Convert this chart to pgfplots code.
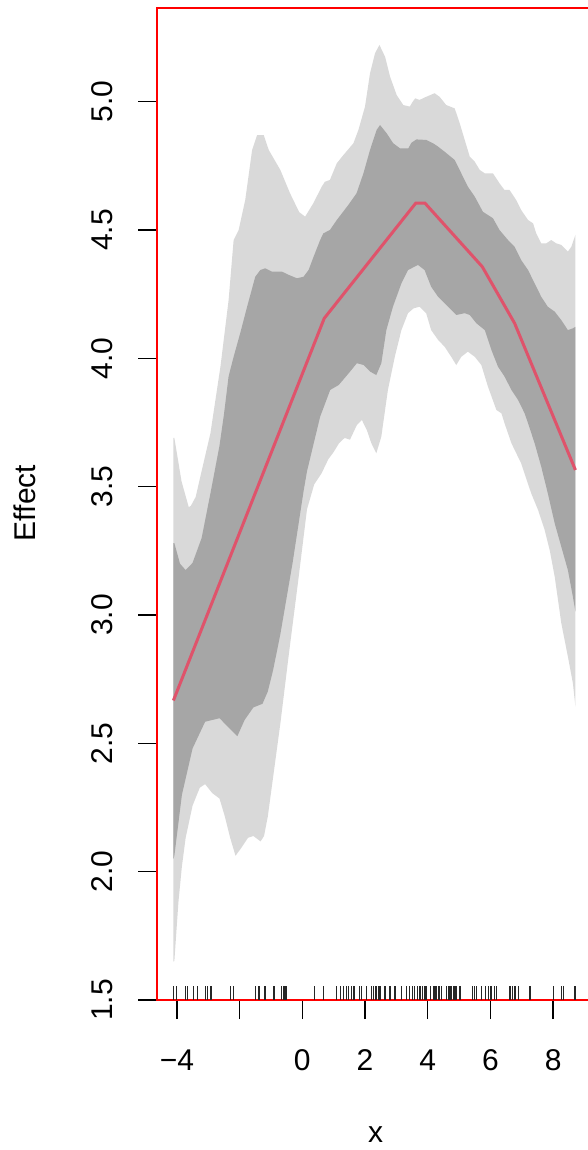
\documentclass[border=0pt]{standalone}
\usepackage{fontspec}
\setmainfont{Liberation Sans}
\usepackage{pgfplots}
\pgfplotsset{compat=1.18}
\definecolor{bandlight}{HTML}{D9D9D9}
\definecolor{banddark}{HTML}{A6A6A6}
\definecolor{pdpline}{HTML}{DF536B}
\begin{document}
\begin{tikzpicture}
\useasboundingbox (0pt,0pt) rectangle (235.2pt,460pt);
\begin{axis}[
  at={(62.92pt,60pt)}, anchor=south west,
  scale only axis, width=176.16pt, height=396.68pt,
  xmin=-4.624, xmax=9.42, ymin=1.5, ymax=5.364,
  axis line style={red, line width=0.8pt},
  axis on top,
  tick align=outside, major tick length=7.6pt,
  every tick/.style={black, line width=0.6pt},
  xtick={-4,-2,0,2,4,6,8}, xticklabels={−4,,0,2,4,6,8},
  ytick={1.5,2,2.5,3,3.5,4,4.5,5},
  yticklabels={1.5,2.0,2.5,3.0,3.5,4.0,4.5,5.0},
  xtick pos=bottom, ytick pos=left,
  tick label style={font=\fontsize{12}{14}\selectfont, inner sep=0pt},
  xticklabel style={anchor=base, yshift=-20.4pt},
  yticklabel style={xshift=-10.5pt, rotate=90, anchor=base},
]
% outer band
\addplot[fill=bandlight, draw=none] coordinates {
(-4.11,3.69) (-4.08,3.69) (-3.85,3.52) (-3.62,3.42) (-3.55,3.426) (-3.40,3.46) (-3.25,3.54)
(-2.93,3.708) (-2.61,3.968) (-2.35,4.227) (-2.19,4.461) (-2.03,4.50) (-1.82,4.617) (-1.60,4.812)
(-1.44,4.870) (-1.23,4.870) (-1.07,4.812) (-0.70,4.734) (-0.39,4.643) (-0.10,4.57) (0.09,4.552)
(0.35,4.604) (0.62,4.669) (0.72,4.688) (0.88,4.695) (1.10,4.760) (1.31,4.792) (1.63,4.838)
(1.79,4.890) (2.00,4.981) (2.16,5.111) (2.32,5.189) (2.46,5.221) (2.64,5.175) (2.80,5.097)
(3.01,5.026) (3.22,4.987) (3.43,4.981) (3.52,5.0) (3.60,5.013) (3.74,5.007) (3.95,5.019)
(4.22,5.033) (4.38,5.019) (4.59,4.987) (4.86,4.974) (5.02,4.916) (5.18,4.851) (5.34,4.786) (5.50,4.766)
(5.66,4.734) (5.82,4.721) (6.08,4.721) (6.29,4.682) (6.45,4.656) (6.61,4.656) (6.82,4.617) (6.98,4.578)
(7.20,4.539) (7.36,4.526) (7.46,4.487) (7.62,4.448) (7.78,4.448) (7.94,4.461) (8.10,4.448) (8.26,4.442)
(8.47,4.416) (8.58,4.435) (8.71,4.481)
(8.71,2.643) (8.63,2.734) (8.47,2.838) (8.26,2.968) (8.05,3.149) (7.89,3.253) (7.73,3.331) (7.52,3.409)
(7.30,3.474) (6.98,3.591) (6.67,3.669) (6.45,3.747) (6.35,3.786) (6.19,3.799) (5.92,3.890) (5.71,3.974)
(5.50,4.006) (5.28,4.026) (5.07,4.006) (4.91,3.974) (4.75,4.006) (4.54,4.045) (4.33,4.072) (4.11,4.110)
(3.95,4.176) (3.74,4.201) (3.55,4.195) (3.37,4.176) (3.16,4.110) (2.95,4.006) (2.73,3.877) (2.52,3.695)
(2.36,3.630) (2.20,3.67) (2.06,3.72) (1.90,3.76) (1.74,3.74) (1.52,3.683) (1.35,3.690) (1.17,3.669)
(1.00,3.635) (0.83,3.607) (0.61,3.551) (0.38,3.509) (0.15,3.412) (-0.13,3.134) (-0.42,2.856) (-0.70,2.577)
(-0.93,2.369) (-1.10,2.215) (-1.22,2.139) (-1.33,2.118) (-1.56,2.139) (-1.73,2.132) (-1.96,2.090)
(-2.13,2.062) (-2.30,2.132) (-2.47,2.215) (-2.64,2.285) (-2.87,2.306) (-3.10,2.341) (-3.27,2.327)
(-3.50,2.257) (-3.72,2.132) (-3.84,2.02) (-3.95,1.882) (-4.08,1.652) (-4.11,1.65)
} -- cycle;
% inner band
\addplot[fill=banddark, draw=none] coordinates {
(-4.11,3.28) (-4.08,3.280) (-3.90,3.20) (-3.72,3.175) (-3.50,3.203) (-3.21,3.300) (-2.92,3.48)
(-2.64,3.66) (-2.50,3.78) (-2.35,3.93) (-2.19,4.006) (-1.98,4.098) (-1.76,4.201) (-1.50,4.318)
(-1.34,4.344) (-1.18,4.351) (-0.97,4.338) (-0.65,4.338) (-0.43,4.325) (-0.17,4.312) (0.04,4.318)
(0.20,4.344) (0.36,4.396) (0.57,4.461) (0.67,4.487) (0.88,4.50) (1.10,4.539) (1.47,4.598)
(1.73,4.643) (1.95,4.721) (2.16,4.812) (2.37,4.890) (2.48,4.909) (2.69,4.877) (2.90,4.838)
(3.12,4.818) (3.38,4.818) (3.48,4.840) (3.64,4.853) (3.95,4.851) (4.17,4.838) (4.33,4.825) (4.54,4.805) (4.86,4.773)
(5.07,4.721) (5.28,4.669) (5.50,4.630) (5.76,4.571) (6.08,4.546) (6.29,4.500) (6.56,4.461) (6.77,4.435)
(6.98,4.383) (7.20,4.344) (7.41,4.292) (7.62,4.240) (7.83,4.201) (8.05,4.182) (8.26,4.149) (8.47,4.110)
(8.63,4.117) (8.71,4.123)
(8.71,3.013) (8.63,3.071) (8.47,3.175) (8.26,3.266) (8.05,3.357) (7.83,3.474) (7.62,3.578) (7.41,3.669)
(7.20,3.747) (7.09,3.786) (6.88,3.838) (6.67,3.877) (6.45,3.929) (6.24,3.968) (6.03,4.033) (5.82,4.110)
(5.55,4.137) (5.34,4.169) (5.18,4.176) (4.91,4.169) (4.65,4.201) (4.33,4.240) (4.11,4.279) (3.90,4.344)
(3.69,4.364) (3.37,4.344) (3.16,4.292) (2.89,4.201) (2.68,4.110) (2.52,3.981) (2.36,3.935) (2.17,3.948)
(1.96,3.974) (1.74,3.981) (1.48,3.942) (1.16,3.896) (0.89,3.877) (0.57,3.773) (0.38,3.677) (0.15,3.56)
(0.04,3.482) (-0.31,3.203) (-0.70,2.925) (-0.93,2.786) (-1.10,2.702) (-1.27,2.654) (-1.56,2.640)
(-1.84,2.591) (-2.07,2.528) (-2.36,2.563) (-2.64,2.598) (-3.10,2.584) (-3.50,2.480) (-3.84,2.299)
(-4.08,2.062) (-4.11,2.05)
} -- cycle;
% partial dependence
\addplot[pdpline, line width=1.2pt] coordinates {
(-4.11,2.667) (0.70,4.156) (3.62,4.605) (3.91,4.605) (5.74,4.357) (6.77,4.137) (8.71,3.565)
};
% rug
\addplot[only marks, mark=|, mark size=2.7pt, mark options={black!85, line width=0.5pt}] coordinates {
(-4.11,1.528) (-4.01,1.528) (-3.72,1.528) (-3.67,1.528) (-3.48,1.528) (-3.35,1.528) (-3.08,1.528)
(-3.02,1.528) (-2.91,1.528) (-2.28,1.528) (-2.20,1.528) (-1.49,1.528) (-1.38,1.528) (-1.19,1.528)
(-0.90,1.528) (-0.66,1.528) (-0.61,1.528) (-0.55,1.528) (-0.50,1.528)
(0.40,1.528) (0.67,1.528) (1.10,1.528) (1.22,1.528) (1.31,1.528) (1.42,1.528) (1.47,1.528)
(1.57,1.528) (1.65,1.528) (1.82,1.528) (1.89,1.528) (2.05,1.528) (2.21,1.528) (2.26,1.528)
(2.35,1.528) (2.42,1.528) (2.48,1.528) (2.64,1.528) (2.80,1.528) (2.96,1.528) (3.17,1.528)
(3.33,1.528) (3.43,1.528) (3.52,1.528) (3.59,1.528) (3.67,1.528) (3.75,1.528) (3.84,1.528)
(3.91,1.528) (3.97,1.528) (4.09,1.528) (4.18,1.528) (4.23,1.528)
(4.29,1.528) (4.36,1.528) (4.45,1.528) (4.60,1.528) (4.68,1.528) (4.74,1.528) (4.82,1.528)
(4.87,1.528) (4.92,1.528) (5.03,1.528) (5.42,1.528) (5.49,1.528) (5.56,1.528) (5.72,1.528)
(5.85,1.528) (5.93,1.528) (6.02,1.528) (6.12,1.528) (6.20,1.528) (6.62,1.528) (6.70,1.528)
(6.78,1.528) (6.89,1.528) (7.26,1.528) (8.00,1.528) (8.27,1.528) (8.32,1.528) (8.70,1.528)
};
\end{axis}
\node[anchor=base, font=\fontsize{12}{14}\selectfont] at (150.2pt,3.2pt) {x};
\node[anchor=base, rotate=90, font=\fontsize{12}{14}\selectfont] at (14.4pt,258.8pt) {Effect};
\end{tikzpicture}
\end{document}
